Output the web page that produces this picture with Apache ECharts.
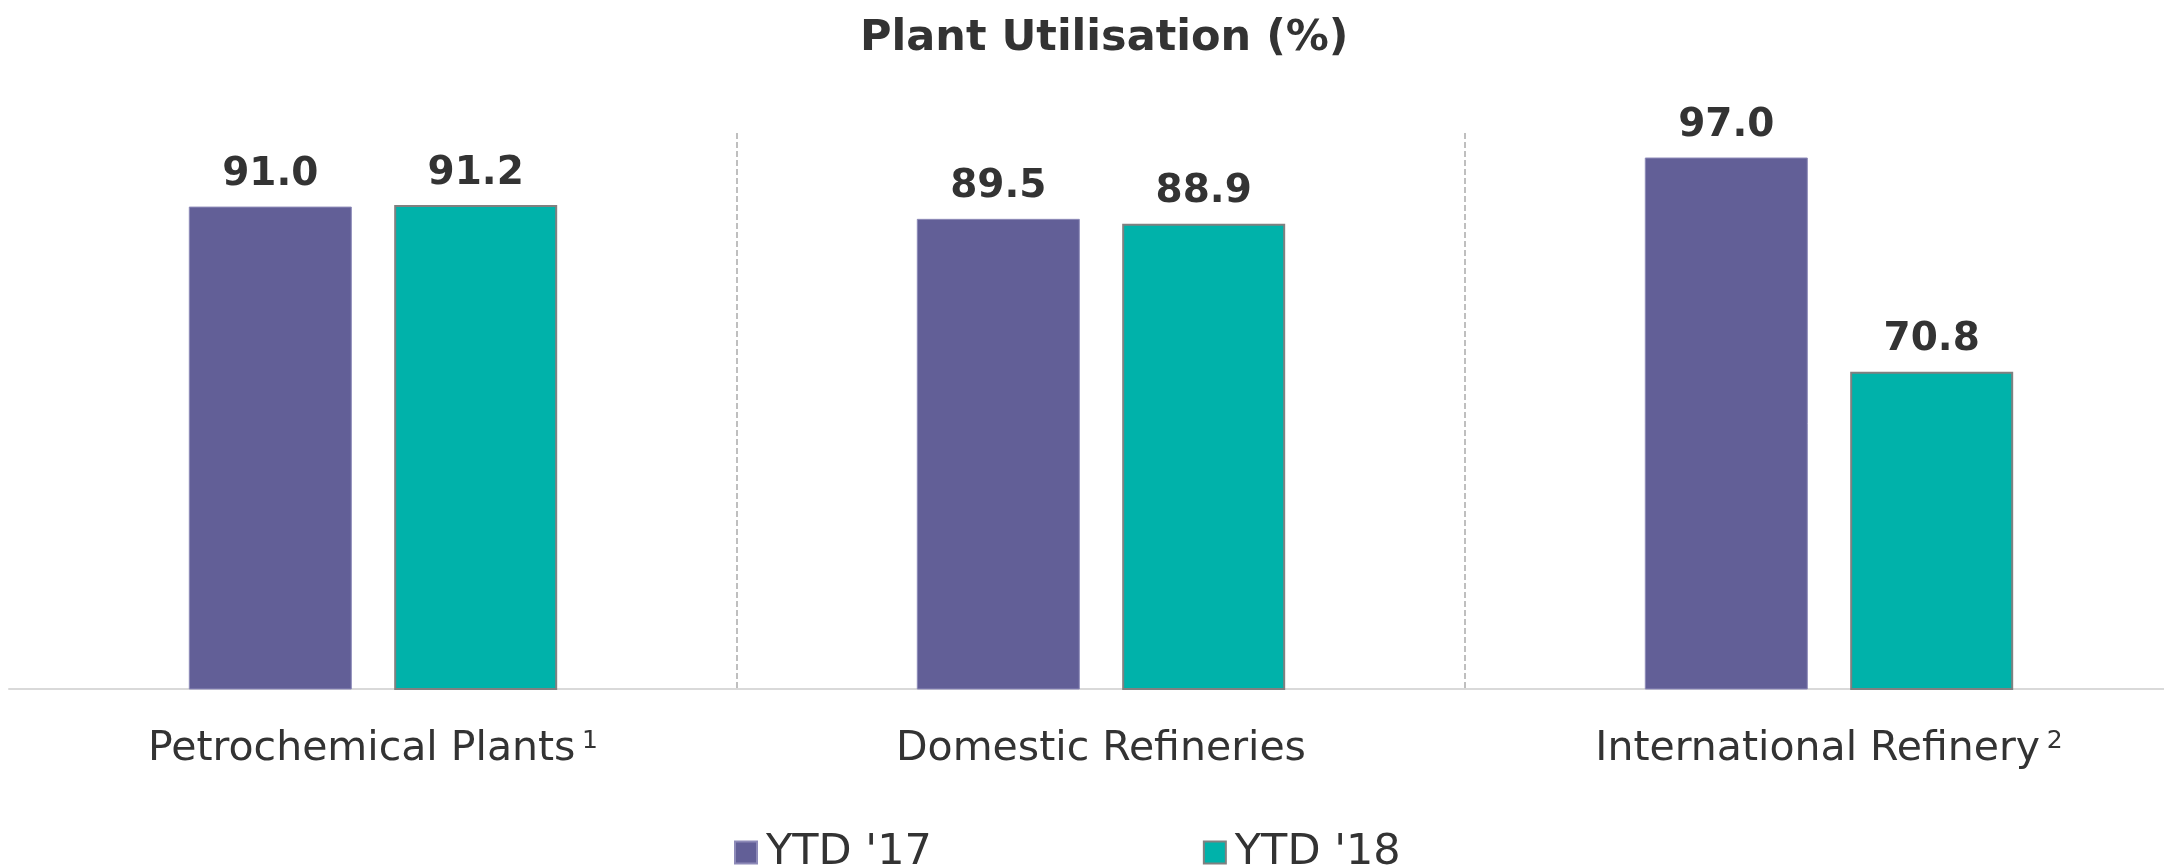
<!DOCTYPE html>
<html>
<head>
<meta charset="utf-8">
<script src="https://cdn.jsdelivr.net/npm/echarts@6/dist/echarts.min.js"></script>
<style>
  html, body { margin: 0; padding: 0; background: #fff; }
  #main { width: 2164px; height: 865px; }
</style>
</head>
<body>
<div id="main"></div>
<script>
var categories = ['Petrochemical Plants', 'Domestic Refineries', 'International Refinery'];
var footnotes = ['1', '', '2'];
var ytd17 = [91.0, 89.5, 97.0];
var ytd18 = [91.2, 88.9, 70.8];
var seriesNames = ["YTD '17", "YTD '18"];

var myChart = echarts.init(document.getElementById('main'));
var textColor = '#333333';
var font = 'DejaVu Sans';

var valueLabel = {
  show: true,
  position: 'top',
  distance: 12,
  fontFamily: font,
  fontWeight: 'bold',
  fontSize: 39,
  color: textColor,
  formatter: function (p) { return p.value.toFixed(1); }
};

var option = {
  animation: false,
  backgroundColor: '#ffffff',
  title: {
    text: 'Plant Utilisation (%)',
    left: 855,
    top: 12,
    textStyle: { fontFamily: font, fontWeight: 'bold', fontSize: 43, color: textColor }
  },
  legend: {
    data: seriesNames,
    left: 729,
    top: 826,
    itemWidth: 22,
    itemHeight: 22,
    itemGap: 271,
    icon: 'rect',
    textStyle: { fontFamily: font, fontSize: 43, color: textColor, padding: [0, 0, 0, 4] }
  },
  grid: { left: 9, width: 2184, top: 133, bottom: 176, containLabel: false, outerBoundsMode: 'none' },
  xAxis: {
    type: 'category',
    data: categories,
    axisLine: { lineStyle: { color: '#d9d9d9', width: 2 } },
    axisTick: { show: false },
    splitLine: {
      show: true,
      interval: function (i) { return i === 1 || i === 2; },
      lineStyle: { color: '#bfbfbf', width: 2, type: [6, 3] }
    },
    axisLabel: {
      margin: 40,
      formatter: function (v, i) {
        var idx = categories.indexOf(v);
        var n = footnotes[idx];
        return n ? '{a|' + v + '}  {s|' + n + '}' : '{a|' + v + '}';
      },
      rich: {
        a: { fontFamily: font, fontSize: 41, color: textColor },
        s: { fontFamily: font, fontSize: 25, color: textColor, verticalAlign: 'top' }
      }
    }
  },
  yAxis: {
    type: 'value',
    min: 32,
    max: 100,
    show: false,
    splitLine: { show: false }
  },
  series: [
    {
      name: seriesNames[0],
      type: 'bar',
      data: ytd17,
      barWidth: 163,
      barGap: '26%',
      itemStyle: { color: '#625F97', borderColor: '#8d8ab8', borderWidth: 1 },
      label: valueLabel
    },
    {
      name: seriesNames[1],
      type: 'bar',
      data: ytd18,
      barWidth: 163,
      itemStyle: { color: '#00B2AA', borderColor: '#808080', borderWidth: 2 },
      label: valueLabel
    }
  ]
};
myChart.setOption(option);
</script>
</body>
</html>
